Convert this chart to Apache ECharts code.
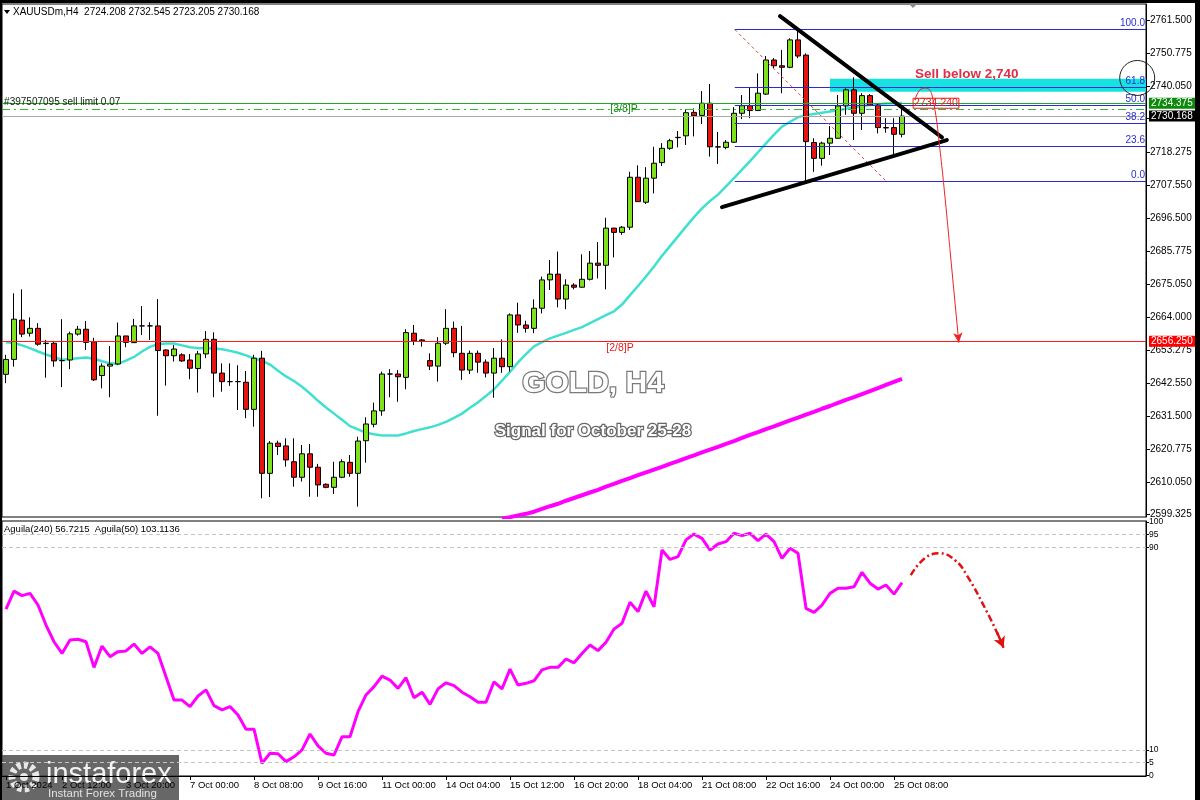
<!DOCTYPE html>
<html><head><meta charset="utf-8">
<script src="https://cdn.jsdelivr.net/npm/echarts@6/dist/echarts.min.js"></script>
<style>html,body{margin:0;padding:0;background:#fff}#c{width:1200px;height:800px}</style>
</head><body><div id="c"></div>
<script>
// ---- DATA ----
// H4 candles: [open, close, low, high]
const ohlc = [
[2645.4,2650.3,2642.5,2651.8],[2650.3,2663.5,2647.9,2672.0],[2663.2,2658.6,2657.6,2673.3],[2658.9,2660.5,2657.8,2664.1],[2660.5,2655.3,2654.8,2662.2],
[2655.5,2655.6,2644.3,2656.7],[2655.6,2649.8,2647.9,2656.4],[2649.9,2649.9,2641.2,2663.5],[2650.1,2658.7,2647.1,2659.4],[2658.6,2660.2,2658.1,2661.3],
[2660.2,2655.9,2653.4,2662.9],[2656.1,2643.6,2643.2,2657.4],[2645.0,2648.1,2640.8,2649.0],[2648.1,2648.7,2637.9,2654.7],[2648.8,2658.0,2648.5,2662.4],
[2658.0,2655.9,2654.3,2658.0],[2655.8,2661.3,2655.8,2663.6],[2661.3,2661.3,2658.3,2667.8],[2661.3,2661.3,2656.7,2662.5],[2661.3,2653.2,2631.8,2670.1],
[2653.4,2651.5,2641.7,2653.6],[2651.5,2653.7,2649.6,2655.0],[2651.8,2649.8,2649.5,2652.3],[2650.1,2647.4,2643.8,2652.1],[2647.3,2652.1,2639.4,2653.1],
[2652.1,2656.9,2650.7,2659.6],[2656.9,2645.8,2637.9,2659.2],[2645.8,2643.0,2639.7,2649.0],[2643.0,2643.0,2641.6,2649.0],[2643.0,2643.0,2633.7,2648.4],
[2642.8,2633.9,2631.0,2646.5],[2633.9,2650.7,2628.2,2651.8],[2650.7,2612.9,2604.7,2653.1],[2612.9,2622.8,2605.1,2623.5],[2622.8,2621.7,2618.9,2623.6],
[2621.9,2617.3,2615.1,2624.4],[2616.7,2611.6,2608.5,2624.4],[2611.6,2619.3,2610.2,2622.2],[2619.3,2614.9,2605.2,2622.5],[2614.9,2609.1,2605.2,2616.0],
[2609.3,2608.3,2608.0,2609.6],[2608.3,2611.6,2606.1,2616.7],[2611.6,2616.7,2611.3,2617.5],[2616.5,2612.9,2611.8,2618.9],[2612.9,2623.5,2602.0,2624.9],
[2623.6,2629.1,2616.4,2631.3],[2629.0,2633.4,2628.0,2636.1],[2633.4,2645.5,2631.8,2646.3],[2645.5,2645.5,2637.9,2647.1],[2645.5,2644.6,2636.4,2646.8],
[2644.4,2659.1,2640.5,2660.2],[2658.9,2656.4,2655.0,2661.6],[2656.4,2656.7,2654.5,2657.0],[2649.9,2648.1,2646.8,2652.3],[2648.1,2655.6,2643.0,2657.6],
[2655.6,2660.5,2655.0,2666.8],[2660.5,2652.5,2651.0,2662.7],[2652.3,2646.8,2643.6,2661.3],[2646.8,2652.3,2645.5,2653.2],[2652.3,2649.4,2645.9,2653.2],
[2649.4,2645.8,2644.4,2650.3],[2645.8,2650.7,2637.7,2654.0],[2650.7,2647.9,2645.9,2656.9],[2647.9,2664.9,2646.3,2665.4],[2664.9,2661.6,2659.0,2668.9],
[2661.6,2660.5,2659.1,2663.0],[2660.5,2667.1,2658.9,2670.0],[2667.1,2676.4,2665.4,2677.5],[2676.4,2678.3,2673.1,2682.9],[2678.3,2670.1,2667.4,2685.7],
[2670.1,2674.7,2666.8,2676.6],[2674.7,2674.0,2673.3,2675.3],[2674.0,2676.6,2673.9,2684.8],[2676.6,2681.9,2676.2,2685.9],[2681.9,2681.2,2676.9,2688.8],
[2681.2,2693.4,2673.3,2696.8],[2693.4,2692.0,2683.8,2693.5],[2692.0,2693.7,2691.2,2694.1],[2693.7,2710.1,2692.8,2711.9],[2710.1,2702.1,2702.0,2714.0],
[2701.9,2709.8,2701.3,2713.4],[2709.8,2714.7,2704.8,2720.1],[2714.9,2719.6,2713.8,2721.3],[2719.6,2722.1,2719.1,2722.7],[2723.1,2723.2,2719.9,2725.3],
[2723.7,2731.3,2720.7,2732.4],[2731.4,2730.3,2723.5,2732.7],[2730.4,2734.4,2727.6,2738.4],[2734.4,2720.1,2716.9,2740.7],[2720.1,2720.0,2714.5,2725.0],
[2719.9,2721.6,2719.3,2722.3],[2721.6,2731.1,2721.4,2733.1],[2731.1,2733.6,2729.2,2737.1],[2733.6,2732.0,2729.5,2739.6],[2732.0,2737.7,2731.9,2744.2],
[2737.4,2748.6,2737.1,2749.9],[2748.6,2746.7,2745.9,2749.2],[2746.7,2746.2,2737.7,2751.9],[2746.2,2755.2,2745.9,2755.7],[2755.2,2749.9,2749.2,2758.5],
[2750.2,2721.8,2708.7,2750.8],[2721.5,2716.3,2711.9,2722.9],[2716.3,2721.3,2713.9,2721.8],[2721.3,2722.9,2717.4,2726.9],[2722.9,2733.5,2722.8,2737.1],
[2733.5,2738.8,2730.6,2739.3],[2738.8,2731.1,2722.3,2742.9],[2731.1,2736.9,2725.6,2737.7],[2736.9,2733.8,2733.7,2737.4],[2733.8,2726.4,2724.5,2734.4],
[2726.4,2726.3,2724.7,2729.5],[2726.4,2724.2,2717.7,2729.5],[2724.208,2730.168,2723.205,2732.545]
];
// turquoise moving average
const maFast = [
2655.9,2655.7,2654.9,2654.0,2652.9,2651.9,2651.0,2650.2,2650.4,2650.7,
2650.9,2650.5,2649.7,2649.0,2648.8,2649.9,2651.1,2652.9,2654.4,2655.3,
2655.5,2655.5,2654.9,2654.3,2654.0,2654.0,2653.9,2653.6,2653.1,2652.5,
2651.6,2650.6,2649.9,2648.6,2646.6,2644.7,2643.2,2641.3,2639.1,2636.7,
2634.5,2632.5,2630.5,2628.4,2627.3,2626.2,2625.7,2625.3,2625.3,2625.3,
2626.0,2626.8,2627.4,2628.0,2628.8,2629.8,2631.1,2632.5,2634.4,2636.2,
2638.3,2640.5,2643.3,2646.2,2649.3,2652.0,2654.6,2656.0,2657.2,2658.1,
2659.0,2660.0,2660.9,2662.2,2663.5,2664.8,2666.1,2668.3,2671.4,2674.4,
2677.5,2680.8,2684.3,2687.5,2690.7,2693.9,2697.0,2699.9,2702.3,2704.4,
2707.1,2709.8,2712.6,2715.4,2718.3,2721.2,2724.1,2726.7,2728.3,2729.8,
2730.5,2730.9,2731.3,2731.7,2732.1,2732.6,2733.1,2733.6,2733.8,2734.1,
2734.3,2734.4,2734.5
];
// magenta slow moving average (visible from bar 62)
const maSlowStart = 62;
const maSlow = [
2598.0,2598.5,2599.1,2599.6,2600.3,2601.2,2602.1,2602.9,2603.9,2604.8,
2605.7,2606.6,2607.5,2608.5,2609.4,2610.4,2611.3,2612.3,2613.2,2614.1,
2615.0,2616.0,2616.9,2617.9,2618.8,2619.8,2620.7,2621.6,2622.6,2623.5,
2624.5,2625.5,2626.4,2627.4,2628.3,2629.3,2630.3,2631.2,2632.2,2633.1,
2634.1,2635.0,2636.0,2637.0,2637.9,2638.9,2639.9,2640.9,2641.9,2642.9,
2643.9
];
// Aguila oscillator (lower pane)
const aguila = [
65.6,72.7,70.9,71.8,67.2,59.3,52.7,48.1,53.4,53.7,
52.7,42.6,51.0,46.8,48.8,49.1,51.8,48.1,50.7,48.1,
38.9,29.7,29.7,27.1,31.3,33.7,27.5,25.8,27.1,23.8,
18.2,18.2,4.7,8.7,8.5,5.4,7.3,10.0,16.3,11.6,
8.7,8.0,15.2,15.2,25.1,31.7,35.0,39.1,37.6,34.3,
38.5,30.6,32.8,28.0,34.1,36.5,35.4,32.8,31.0,28.8,
28.8,36.9,34.1,41.9,35.6,36.3,37.3,41.6,42.6,42.6,
45.9,44.4,48.1,51.4,49.2,52.5,57.7,60.0,68.3,64.6,
72.7,66.5,88.9,85.2,86.3,92.9,95.2,93.5,88.9,91.3,
92.2,95.5,94.6,95.5,92.6,95.2,92.2,85.6,89.6,87.6,
65.9,64.3,67.2,71.8,73.8,73.8,74.4,80.1,75.8,73.5,
75.1,71.5,76.0
];
// time axis labels: [bar index, text]
const xTickLabels = [
[0,'1 Oct 2024'],[7,'2 Oct 12:00'],[15,'3 Oct 20:00'],[23,'7 Oct 00:00'],[31,'8 Oct 08:00'],
[39,'9 Oct 16:00'],[47,'11 Oct 00:00'],[55,'14 Oct 04:00'],[63,'15 Oct 12:00'],[71,'16 Oct 20:00'],
[79,'18 Oct 04:00'],[87,'21 Oct 08:00'],[95,'22 Oct 16:00'],[103,'24 Oct 00:00'],[111,'25 Oct 08:00']
];
const priceTicks = [2599.325,2610.050,2620.775,2631.500,2642.550,2653.275,2664.000,2675.050,2685.775,2696.500,2707.550,2718.275,2729.325,2740.050,2750.775,2761.500];
const aguilaTicks = [0,5,10,90,95,100];
const aguilaLevels = [5,10,90,95];
// Fibonacci retracement (drawn from the swing high to the swing low)
const fibStart = 91.1;
const fibLevels = [['100.0',2758.55],['61.8',2739.49],['50.0',2733.60],['38.2',2727.71],['23.6',2720.43],['0.0',2708.65]];
const fibTrend = [[91.1,2758.6],[110.1,2708.6]];
// chart levels
const murrey28 = 2656.25, murrey38 = 2734.375, bid = 2730.168, sellLimit = 2732.4;
// triangle
const triUpper = [[96.75,2763.0],[117.0,2723.2]];
const triLower = [[89.5,2700.3],[117.6,2722.3]];
// sell zone
const sellZone = {x0:103, x1:142.5, top:2742.4, bottom:2738.2};
// projected path (main pane) and arrow tip
const arrowMain = [[113.6,2735.5],[114.25,2738.8],[115.0,2739.4],[115.75,2737.1],[116.75,2719.1],[118.0,2686.2]];
const arrowMainTip = [[118.0,2686.2],[119.1,2655.8]];
// projected path (oscillator pane)
const arrowLow = [[113.1,79.0],[114.9,85.8],[116.75,87.6],[118.6,85.0],[120.1,79.0],[122.6,64.6],[124.0,55.5]];
const arrowLowTip = [[123.9,56.3],[124.7,50.3]];

// ---- CHART ----
const N_SLOTS = 143;
const cats = Array.from({length:N_SLOTS}, (_, i) => String(i));
const tickMap = new Map(xTickLabels);
const maSlowFull = Array(maSlowStart).fill('-').concat(maSlow);
const FONT = 'Liberation Sans, Arial, sans-serif';

const chart = echarts.init(document.getElementById('c'), null, {renderer:'canvas'});

const priceLabel = (txt, bg) => ({show:true, position:'end', distance:3, formatter:txt, backgroundColor:bg, color:'#fff', fontSize:10, fontFamily:FONT, padding:[1,3,0,2]});
const noZero = {onZero:false};

const option = {
  animation:false,
  backgroundColor:'#ffffff',
  grid:[
    {left:2, top:4, width:1144, height:513, show:true, borderColor:'#000', borderWidth:1, backgroundColor:'#fff'},
    {left:2, top:521, width:1144, height:255, show:true, borderColor:'#000', borderWidth:1, backgroundColor:'#fff'}
  ],
  xAxis:[
    {type:'category', gridIndex:0, data:cats, boundaryGap:true, show:false, axisLine:noZero},
    {type:'category', gridIndex:1, data:cats, boundaryGap:true,
      axisLine:{show:true, onZero:false, lineStyle:{color:'#000'}},
      axisTick:{show:true, alignWithLabel:true, length:4, interval:(i)=>tickMap.has(i), lineStyle:{color:'#000'}},
      axisLabel:{show:true, interval:(i)=>tickMap.has(i), formatter:(v,i)=>tickMap.get(i)||'', align:'left', margin:4, color:'#000', fontSize:9.5, fontFamily:FONT}},
    {type:'value', gridIndex:0, min:-0.5, max:142.5, show:false, axisLine:noZero},
    {type:'value', gridIndex:1, min:-0.5, max:142.5, show:false, axisLine:noZero}
  ],
  yAxis:[
    {type:'value', gridIndex:0, position:'right', min:2598.56, max:2766.98, scale:true,
      axisLine:{show:true, onZero:false, lineStyle:{color:'#000'}}, splitLine:{show:false},
      axisTick:{show:true, length:4, customValues:priceTicks, lineStyle:{color:'#000'}},
      axisLabel:{customValues:priceTicks, formatter:(v)=>v.toFixed(3), margin:4, color:'#000', fontSize:10, fontFamily:FONT}},
    {type:'value', gridIndex:1, position:'right', min:-0.28, max:100.36,
      axisLine:{show:true, onZero:false, lineStyle:{color:'#000'}}, splitLine:{show:false},
      axisTick:{show:true, length:3, customValues:aguilaTicks, lineStyle:{color:'#000'}},
      axisLabel:{customValues:aguilaTicks, margin:3, color:'#000', fontSize:8.5, fontFamily:FONT}}
  ],
  series:[
    {type:'scatter', xAxisIndex:2, yAxisIndex:0, symbolSize:1, itemStyle:{color:'rgba(0,0,0,0)', opacity:1}, z:1, silent:true,
      data:[[fibStart, fibLevels[0][1]]],
      markArea:{silent:true, itemStyle:{color:'#16e3df', opacity:1},
        data:[[{coord:[sellZone.x0, sellZone.top]},{coord:[sellZone.x1, sellZone.bottom]}]]},
      markLine:{silent:true, symbol:'none', animation:false,
        lineStyle:{color:'#2b2bd6', width:1, type:'solid', opacity:1},
        label:{show:true, position:'insideEndTop', distance:1, color:'#2b2bd6', fontSize:10, fontFamily:FONT},
        data: fibLevels.map(([t,v]) => [{coord:[fibStart, v], label:{formatter:t}}, {coord:[142.5, v]}]).concat([
          [{coord:fibTrend[0], lineStyle:{color:'#e04040', type:[3,3], width:1}, label:{show:false}}, {coord:fibTrend[1]}]
        ])}
    },
    {type:'candlestick', xAxisIndex:0, yAxisIndex:0, data:ohlc, barWidth:5, z:3,
      itemStyle:{color:'#7ee11e', color0:'#e5140e', borderColor:'#000', borderColor0:'#000', borderWidth:1},
      markLine:{silent:true, symbol:'none', animation:false,
        data:[
          {yAxis:murrey28, lineStyle:{color:'#ff1a1a', width:1, type:'solid', opacity:1}, label:priceLabel(murrey28.toFixed(3), '#ff0000')},
          {yAxis:sellLimit, lineStyle:{color:'#33bb33', width:1, type:[8,4,2,4], opacity:1}, label:{show:false}},
          {yAxis:bid, lineStyle:{color:'#a8a8a8', width:1, type:'solid', opacity:1}, label:priceLabel(bid.toFixed(3), '#000')},
          {yAxis:murrey38, lineStyle:{color:'#22aa22', width:1, type:'solid', opacity:1}, label:priceLabel(murrey38.toFixed(3), '#0b8a0b')}
        ]}
    },
    {type:'line', xAxisIndex:0, yAxisIndex:0, data:maFast, symbol:'none', z:2,
      lineStyle:{color:'#40e0d0', width:2.5}},
    {type:'line', xAxisIndex:0, yAxisIndex:0, data:maSlowFull, symbol:'none', z:2,
      lineStyle:{color:'#ff00ff', width:4}},
    {type:'line', xAxisIndex:2, yAxisIndex:0, data:triUpper, symbol:'none', z:6,
      lineStyle:{color:'#000', width:4, cap:'round'}},
    {type:'line', xAxisIndex:2, yAxisIndex:0, data:triLower, symbol:'none', z:6,
      lineStyle:{color:'#000', width:4, cap:'round'}},
    {type:'line', xAxisIndex:2, yAxisIndex:0, data:arrowMain, symbol:'none', smooth:0.4, z:7, clip:false,
      lineStyle:{color:'#ee2222', width:1},
      markLine:{silent:true, symbol:['none','arrow'], symbolSize:[7,10], animation:false,
        lineStyle:{color:'#ee2222', width:1, type:'solid', opacity:1}, label:{show:false},
        data:[[{coord:arrowMainTip[0]},{coord:arrowMainTip[1]}]]}},
    {type:'scatter', xAxisIndex:2, yAxisIndex:0, symbolSize:1, itemStyle:{color:'rgba(0,0,0,0)', opacity:1}, z:8, silent:true,
      label:{show:true, position:'inside', fontFamily:FONT, fontSize:11},
      data:[
        {value:[120.1, 2744.0], label:{formatter:'Sell below 2,740', fontSize:13.5, fontWeight:'bold', color:'#e02e48'}},
        {value:[116.25, 2734.4], label:{formatter:'2734.240', color:'#e81c1c', fontSize:10.5, borderColor:'#e81c1c', borderWidth:1, padding:[0,1,-1,1]}},
        {value:[76.75, 2654.0], label:{formatter:'[2/8]P', color:'#e81c1c', fontSize:10.5}},
        {value:[77.25, 2732.5], label:{formatter:'[3/8]P', color:'#148a14', fontSize:10.5}},
        {value:[-0.3, 2734.7], label:{formatter:'#397507095 sell limit 0.07', position:'right', distance:0, color:'#102010', fontSize:10}}
      ]},
    {type:'scatter', xAxisIndex:2, yAxisIndex:0, symbol:'circle', symbolSize:35, z:9, silent:true,
      itemStyle:{color:'rgba(0,0,0,0)', borderColor:'#222', borderWidth:1, opacity:1},
      data:[[141.4, 2742.7]]},
    {type:'line', xAxisIndex:1, yAxisIndex:1, data:aguila, symbol:'none', z:3,
      lineStyle:{color:'#ff00ff', width:3},
      markLine:{silent:true, symbol:'none', animation:false, label:{show:false},
        lineStyle:{color:'#c4c4c4', width:1, type:[4,3], opacity:1},
        data: aguilaLevels.map(v => ({yAxis:v}))}},
    {type:'line', xAxisIndex:3, yAxisIndex:1, data:arrowLow, symbol:'none', smooth:0.45, z:4, clip:false,
      lineStyle:{color:'#e01010', width:2.5, type:[7,3,2,3]},
      markLine:{silent:true, symbol:['none','arrow'], symbolSize:[9,11], animation:false, label:{show:false},
        lineStyle:{color:'#e01010', width:2.5, type:'solid', opacity:1},
        data:[[{coord:arrowLowTip[0]},{coord:arrowLowTip[1]}]]}}
  ],
  graphic:[
    {type:'rect', shape:{x:0, y:0, width:1200, height:3}, style:{fill:'#000'}, z:100},
    {type:'rect', shape:{x:0, y:0, width:2, height:800}, style:{fill:'#000'}, z:100},
    {type:'rect', shape:{x:1195, y:0, width:5, height:800}, style:{fill:'#000'}, z:100},
    {type:'polygon', shape:{points:[[908,3],[918,3],[913,8]]}, style:{fill:'#8a8a8a'}, z:100},
    {type:'polygon', shape:{points:[[4,10],[10,10],[7,14]]}, style:{fill:'#000'}, z:100},
    {type:'text', x:13, y:7, z:100, style:{text:'XAUUSDm,H4  2724.208 2732.545 2723.205 2730.168', font:'10px '+FONT, fill:'#000'}},
    {type:'text', x:4, y:524, z:100, style:{text:'Aguila(240) 56.7215  Aguila(50) 103.1136', font:'9.5px '+FONT, fill:'#000'}},
    {type:'text', x:593, y:384, z:100, style:{text:'GOLD, H4', font:'bold 30px '+FONT, fill:'#ffffff', stroke:'#7a7a7a', lineWidth:2.5, align:'center', verticalAlign:'middle', shadowColor:'rgba(0,0,0,0.45)', shadowBlur:3, shadowOffsetX:2, shadowOffsetY:2}},
    {type:'text', x:593, y:431, z:100, style:{text:'Signal for October 25-28', font:'bold 17px '+FONT, fill:'#ffffff', stroke:'#666', lineWidth:2.5, align:'center', verticalAlign:'middle', shadowColor:'rgba(0,0,0,0.45)', shadowBlur:3, shadowOffsetX:1.5, shadowOffsetY:1.5}},
    {type:'group', z:110, children:[
      {type:'rect', shape:{x:0, y:755, width:179, height:45}, style:{fill:'rgba(60,60,60,0.78)'}},
      {type:'circle', shape:{cx:24, cy:777, r:12}, style:{fill:'none', stroke:'#e8e8e8', lineWidth:7, lineDash:[4,3]}},
      {type:'circle', shape:{cx:24, cy:777, r:4}, style:{fill:'#e8e8e8'}},
      {type:'text', x:46, y:760, style:{text:'instaforex', font:'29px '+FONT, fill:'#f2f2f2'}},
      {type:'text', x:48, y:788, style:{text:'Instant Forex Trading', font:'11.5px '+FONT, fill:'#e0e0e0'}}
    ]}
  ]
};
chart.setOption(option);
</script>
</body></html>
